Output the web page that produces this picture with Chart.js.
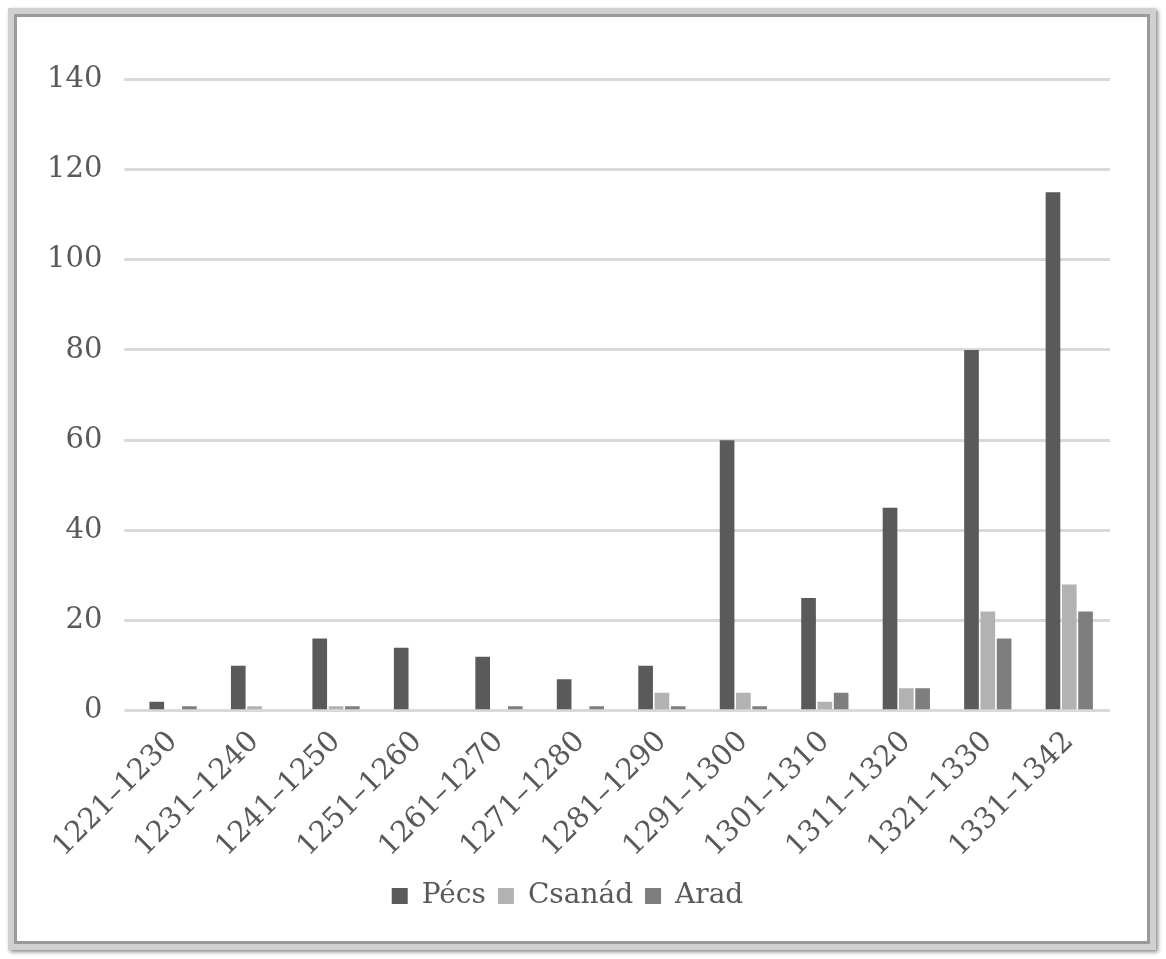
<!DOCTYPE html>
<html><head><meta charset="utf-8">
<script src="https://cdn.jsdelivr.net/npm/chart.js@4"></script>
<style>
body{margin:0;background:#fff;}
#frame{position:absolute;left:8px;top:8px;width:1136px;height:930px;border:6px solid #d0d0d0;box-shadow:inset 0 0 0 3px #9a9a9a, 2px 2px 4px #888;background:#fff;}
#wrap{position:absolute;left:25px;top:40px;width:1085px;height:890px;}
</style></head><body>
<div id="frame"></div>
<div id="wrap"><canvas id="c"></canvas></div>
<script>
const categories=["1221–1230","1231–1240","1241–1250","1251–1260","1261–1270","1271–1280","1281–1290","1291–1300","1301–1310","1311–1320","1321–1330","1331–1342"];
const pecs=[2,10,16,14,12,7,10,60,25,45,80,115];
const csanad=[0,1,1,0,0,0,4,4,2,5,22,28];
const arad=[1,0,1,0,1,1,1,1,4,5,16,22];
const font="'DejaVu Serif'";
new Chart(document.getElementById('c'),{type:'bar',
data:{labels:categories,datasets:[
{label:'Pécs',data:pecs,backgroundColor:'#5a5a5a'},
{label:'Csanád',data:csanad,backgroundColor:'#b2b2b2'},
{label:'Arad',data:arad,backgroundColor:'#7e7e7e'}]},
options:{responsive:true,maintainAspectRatio:false,animation:false,
datasets:{bar:{categoryPercentage:0.6,barPercentage:0.9}},
layout:{padding:{right:0,bottom:10}},
plugins:{legend:{position:'bottom',labels:{font:{family:font,size:28},color:'#595959',boxWidth:16,boxHeight:16,padding:12}},tooltip:{enabled:false}},
scales:{
x:{grid:{display:false},border:{color:'#d9d9d9',width:3},ticks:{font:{family:font,size:29},color:'#595959',maxRotation:45,minRotation:45,padding:6}},
y:{min:0,max:140,ticks:{stepSize:20,font:{family:font,size:29},color:'#595959',padding:22},grid:{color:'#d9d9d9',lineWidth:3},border:{display:false}}
}}});
</script></body></html>
